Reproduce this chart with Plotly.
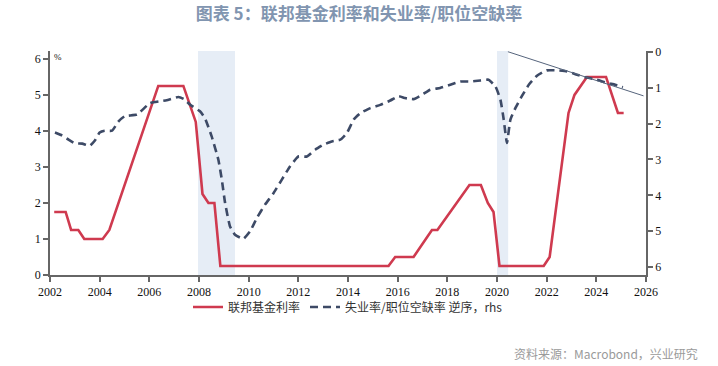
import plotly.graph_objects as go

# Fed funds target rate (upper), left axis, %
ff_x = [2002.17, 2002.63, 2002.85, 2003.14, 2003.38, 2004.12, 2004.39, 2006.36, 2007.37,
        2007.87, 2008.14, 2008.38, 2008.62, 2008.86, 2015.63, 2015.90, 2016.64, 2017.38,
        2017.60, 2018.89, 2019.35, 2019.63, 2019.86, 2020.10, 2021.88, 2022.12, 2022.88,
        2023.12, 2023.62, 2024.39, 2024.87, 2025.10]
ff_y = [1.75, 1.75, 1.25, 1.25, 1.00, 1.00, 1.25, 5.25, 5.25,
        4.25, 2.25, 2.00, 2.00, 0.25, 0.25, 0.50, 0.50, 1.25,
        1.25, 2.50, 2.50, 2.00, 1.75, 0.25, 0.25, 0.50, 4.50,
        5.00, 5.50, 5.50, 4.50, 4.50]

# Unemployed per job vacancy, right axis (reversed)
uv_x = [2002.20, 2002.45, 2002.75, 2003.00, 2003.30, 2003.60, 2003.80, 2004.00, 2004.20,
        2004.50, 2004.75, 2005.00, 2005.50, 2006.03, 2006.43, 2006.70, 2007.17, 2007.40,
        2007.65, 2008.04, 2008.24, 2008.51, 2008.78, 2008.92, 2009.05, 2009.25, 2009.45,
        2009.79, 2010.06, 2010.33, 2010.66, 2011.00, 2011.33, 2011.67, 2012.00, 2012.34,
        2012.68, 2013.01, 2013.35, 2013.69, 2013.96, 2014.23, 2014.50, 2014.90, 2015.30,
        2015.70, 2016.03, 2016.30, 2016.64, 2016.98, 2017.31, 2017.71, 2018.12, 2018.52,
        2018.92, 2019.33, 2019.66, 2019.94, 2020.14, 2020.27, 2020.40, 2020.54, 2020.74,
        2021.00, 2021.28, 2021.61, 2022.00, 2022.42, 2022.82, 2023.22, 2023.62, 2024.02,
        2024.43, 2024.76, 2025.07]
uv_y = [2.25, 2.32, 2.45, 2.55, 2.56, 2.62, 2.48, 2.25, 2.20,
        2.20, 1.95, 1.80, 1.75, 1.43, 1.38, 1.35, 1.26, 1.32,
        1.48, 1.66, 1.85, 2.36, 3.01, 3.57, 4.21, 4.87, 5.10,
        5.21, 5.00, 4.63, 4.26, 3.94, 3.57, 3.19, 2.92, 2.92,
        2.73, 2.59, 2.50, 2.45, 2.26, 1.89, 1.71, 1.57, 1.48,
        1.36, 1.24, 1.29, 1.32, 1.20, 1.06, 1.01, 0.92, 0.83,
        0.83, 0.80, 0.78, 0.97, 1.34, 1.89, 2.54, 1.89, 1.57,
        1.24, 0.92, 0.67, 0.52, 0.52, 0.55, 0.64, 0.72, 0.78,
        0.87, 0.92, 0.99]

# Trend line (right axis)
trend_x = [2020.44, 2025.90]
trend_y = [0.00, 1.23]

# Recession periods
rec_start = [2007.96, 2020.00]
rec_end = [2009.45, 2020.45]

x_ticks = list(range(2002, 2027, 2))
y_ticks = [0, 1, 2, 3, 4, 5, 6]

RED = "#cf3a4f"
NAVY = "#3d4a66"
AX = "#666666"
tickfont = dict(family="Liberation Serif", size=12, color="#111111")

fig = go.Figure()

fig.add_trace(go.Scatter(x=ff_x, y=ff_y, mode="lines", name="联邦基金利率",
                         line=dict(color=RED, width=2.6), yaxis="y"))
fig.add_trace(go.Scatter(x=uv_x, y=uv_y, mode="lines", name="失业率/职位空缺率 逆序，rhs",
                         line=dict(color=NAVY, width=2.6, dash="8px,5px", shape="spline",
                                   smoothing=0.4),
                         yaxis="y2"))
fig.add_trace(go.Scatter(x=trend_x, y=trend_y, mode="lines", showlegend=False,
                         line=dict(color="#56647c", width=1), yaxis="y2", hoverinfo="skip"))

for s, e in zip(rec_start, rec_end):
    fig.add_shape(type="rect", xref="x", yref="paper", x0=s, x1=e, y0=0, y1=1,
                  fillcolor="#e6edf6", line=dict(width=0), layer="below")

fig.update_layout(
    width=718, height=366,
    margin=dict(l=50, r=72, t=51, b=91, autoexpand=False),
    paper_bgcolor="white", plot_bgcolor="white",
    title=dict(text="<b>图表 5：联邦基金利率和失业率/职位空缺率</b>", x=0.5, xanchor="center",
               y=1 - 14 / 366, yanchor="middle",
               font=dict(family="Noto Sans CJK SC", size=17, color="#8195b0")),
    xaxis=dict(range=[2002, 2026], tickvals=x_ticks, ticktext=[str(t) for t in x_ticks],
               showgrid=False, zeroline=False, showline=True, linecolor=AX, linewidth=1.5,
               ticks="outside", ticklen=5, tickcolor=AX, tickwidth=1.5, tickfont=tickfont),
    yaxis=dict(range=[0, 6.22], tickvals=y_ticks, showgrid=False, zeroline=False,
               showline=True, linecolor=AX, linewidth=1.5, ticks="outside", ticklen=5,
               tickcolor=AX, tickwidth=1.5, tickfont=tickfont),
    yaxis2=dict(range=[6.22, -0.02], tickvals=y_ticks, overlaying="y", side="right",
                showgrid=False, zeroline=False, showline=True, linecolor=AX, linewidth=1.5,
                ticks="outside", ticklen=5, tickcolor=AX, tickwidth=1.5, tickfont=tickfont),
    legend=dict(orientation="h", x=0.5, xanchor="center", y=(275 - 307) / 224,
                yanchor="middle",
                font=dict(family="Noto Sans CJK SC", size=12, color="#333333"),
                tracegroupgap=0, bgcolor="rgba(0,0,0,0)"),
    showlegend=True,
)

fig.add_annotation(text="%", xref="paper", yref="paper", x=(57.5 - 50) / 596,
                   y=(275 - 57.5) / 224, xanchor="center", yanchor="middle", showarrow=False,
                   font=dict(family="Liberation Serif", size=9, color="#111111"))
fig.add_annotation(text="资料来源：Macrobond，兴业研究", xref="paper", yref="paper",
                   x=(700 - 50) / 596, y=(275 - 353) / 224, xanchor="right", yanchor="middle",
                   showarrow=False,
                   font=dict(family="Noto Sans CJK SC", size=12, color="#9a9a9a"))

fig.write_html("out.html", config={"displayModeBar": False},
               post_script="document.body.style.margin='0';")
